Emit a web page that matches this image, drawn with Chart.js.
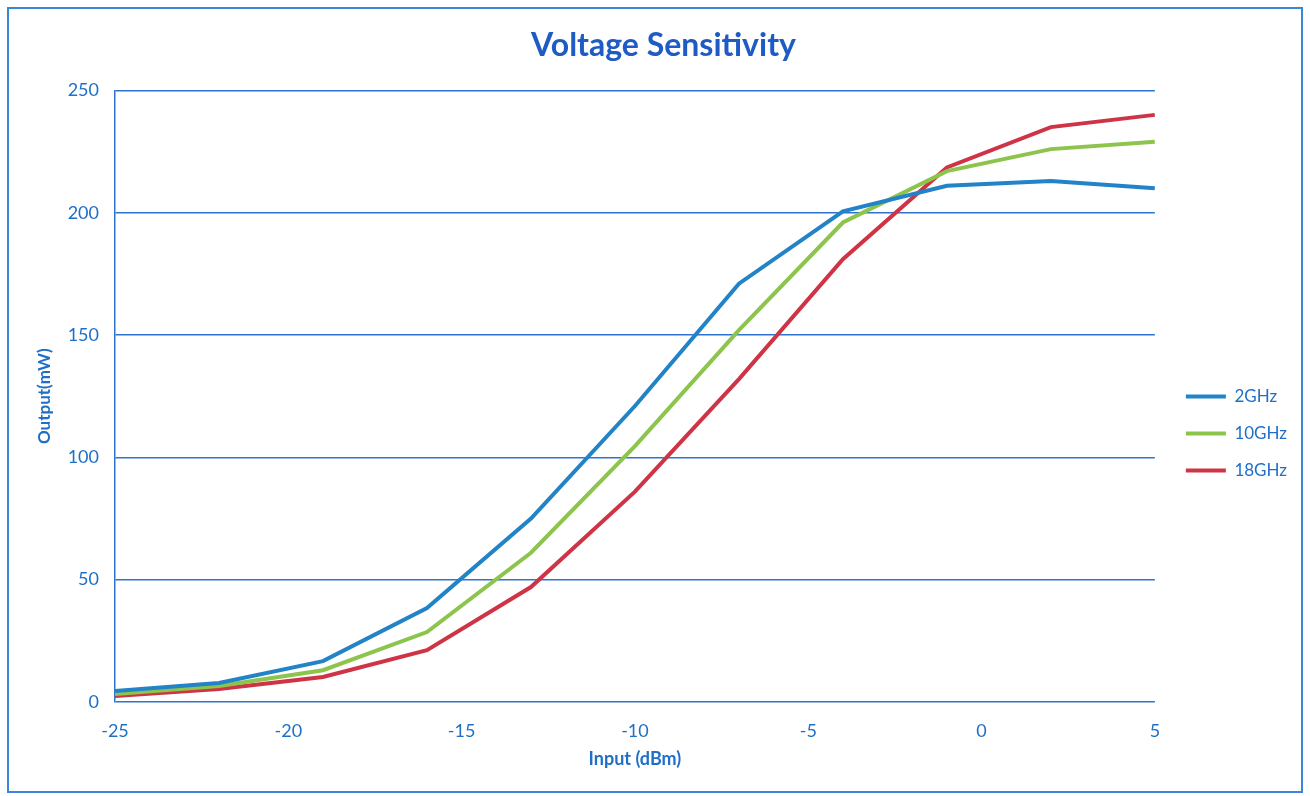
<!DOCTYPE html>
<html lang="en">
<head>
  <meta charset="UTF-8">
  <title>Voltage Sensitivity</title>
  <script src="https://cdn.jsdelivr.net/npm/chart.js"></script>
  <style>
    body {
      margin: 0;
      padding: 0;
      background: #fff;
    }
    .wrap {
      position: relative;
      width: 1310px;
      height: 796px;
    }
    .frame {
      position: absolute;
      left: 7px;
      top: 7px;
      width: 1292px;
      height: 782px;
      border: 2px solid #3b86d6;
      pointer-events: none;
    }
  </style>
</head>
<body>
  <div class="wrap">
    <canvas id="chart" width="1310" height="796"></canvas>
    <div class="frame"></div>
  </div>

  <script>
    // input power (dBm)
    const inputs = [-25, -22, -19, -16, -13, -10, -7, -4, -1, 2, 5];
    // output (mW) per frequency
    const out2GHz = [4.5, 7.8, 16.7, 38.4, 75, 121, 171, 200.6, 211, 213, 210];
    const out10GHz = [3.3, 6.5, 13, 28.6, 61, 104.6, 152, 196, 217, 226, 229];
    const out18GHz = [2.5, 5.3, 10.2, 21.2, 47, 86, 132, 181, 218.5, 235, 240];
    const seriesNames = ['2GHz', '10GHz', '18GHz'];

    const blueText = '#1f6fc6';
    const gridBlue = '#2f74cc';
    const font = "Lato, 'Open Sans', sans-serif";

    function toPoints(ys) {
      return inputs.map((x, i) => ({ x: x, y: ys[i] }));
    }

    const ctx = document.getElementById('chart').getContext('2d');
    new Chart(ctx, {
      type: 'line',
      data: {
        datasets: [
          { label: seriesNames[0], data: toPoints(out2GHz), borderColor: '#2283c6', backgroundColor: '#2283c6' },
          { label: seriesNames[1], data: toPoints(out10GHz), borderColor: '#8cc44c', backgroundColor: '#8cc44c' },
          { label: seriesNames[2], data: toPoints(out18GHz), borderColor: '#cf3446', backgroundColor: '#cf3446' }
        ].map(d => Object.assign(d, { borderWidth: 4, pointRadius: 0, tension: 0, fill: false }))
      },
      options: {
        responsive: false,
        animation: false,
        layout: { padding: { left: 30, right: 13, top: 16, bottom: 24 } },
        plugins: {
          title: {
            display: true,
            text: 'Voltage Sensitivity',
            color: '#1f5bc4',
            font: { family: font, size: 32, weight: 'bold' },
            padding: { top: 10, bottom: 26 }
          },
          legend: {
            position: 'right',
            title: { display: true, text: ' ', font: { size: 16 }, padding: 30 },
            labels: {
              usePointStyle: true,
              pointStyle: 'line',
              pointStyleWidth: 40,
              color: blueText,
              font: { family: font, size: 17 },
              padding: 20
            }
          },
          tooltip: { enabled: false }
        },
        scales: {
          x: {
            type: 'linear',
            min: -25,
            max: 5,
            ticks: { stepSize: 5, color: blueText, font: { family: font, size: 18 }, padding: 18 },
            grid: { display: false, drawTicks: false },
            border: { display: false },
            title: {
              display: true,
              text: 'Input (dBm)',
              color: blueText,
              font: { family: font, size: 18, weight: 'bold' },
              padding: { top: 6, bottom: 2 }
            },
            afterFit: function (scale) { scale.height = 70; }
          },
          y: {
            min: 0,
            max: 250,
            ticks: { stepSize: 50, color: blueText, font: { family: font, size: 18 }, padding: 16 },
            grid: { color: gridBlue, lineWidth: 1.5, drawTicks: false },
            border: { display: true, color: gridBlue, width: 1.5 },
            title: {
              display: true,
              text: 'Output(mW)',
              color: blueText,
              font: { family: font, size: 17, weight: 'bold' },
              padding: { bottom: 10 }
            },
            afterFit: function (scale) { scale.width = 85; }
          },
          // empty spacer between plot and legend
          gap: {
            position: 'right',
            display: true,
            ticks: { display: false },
            grid: { display: false, drawTicks: false },
            border: { display: false },
            afterFit: function (scale) { scale.width = 11; }
          }
        }
      }
    });
  </script>
</body>
</html>
